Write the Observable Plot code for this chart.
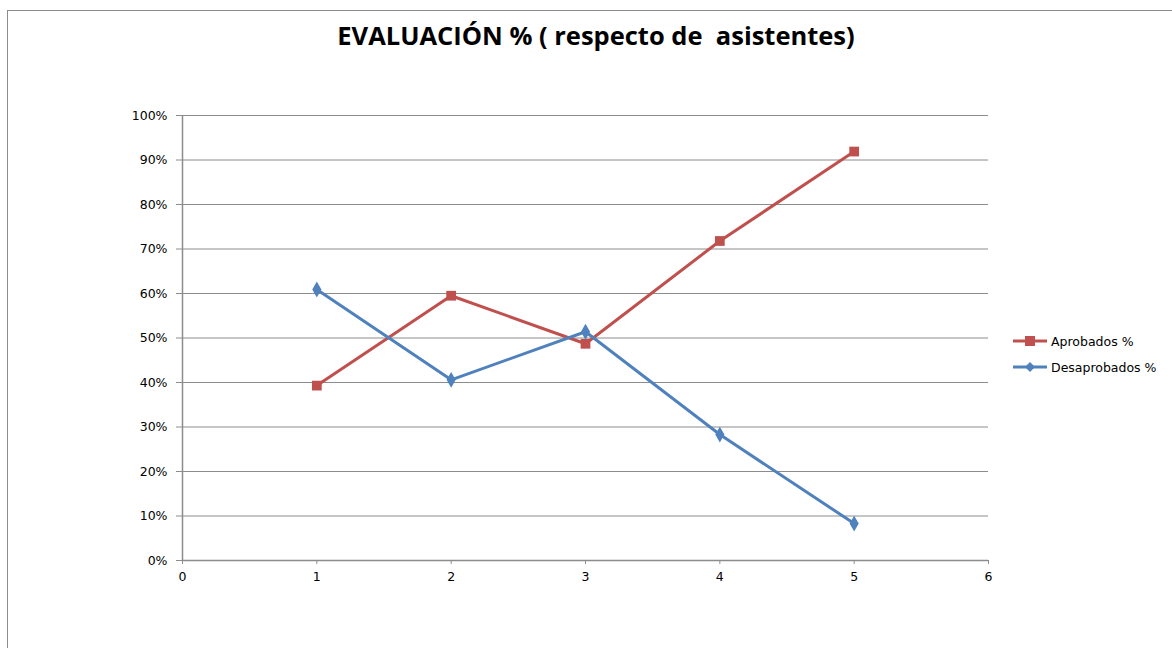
<!DOCTYPE html>
<html>
<head>
<meta charset="utf-8">
<script src="https://cdn.jsdelivr.net/npm/d3@7"></script>
<script src="https://cdn.jsdelivr.net/npm/@observablehq/plot@0.6"></script>
<style>
  html, body { margin: 0; padding: 0; background: #fff; overflow: hidden; }
  #wrap { position: relative; width: 1172px; height: 648px; overflow: hidden; }
  #frame { position: absolute; left: 7px; top: 10px; width: 1200px; height: 700px; border: 1.5px solid #8c8c8c; box-sizing: border-box; }
  #title { position: absolute; left: 0; width: 1192px; top: 18px; text-align: center; font-family: "Open Sans", sans-serif; font-weight: bold; font-size: 25.5px; color: #000; }
  #legend { position: absolute; left: 1012px; top: 328px; font-family: "DejaVu Sans", Verdana, sans-serif; font-size: 12.5px; color: #000; }
  .item { display: flex; align-items: center; height: 26px; }
  .item svg { margin-right: 3px; }
  #chart { position: absolute; left: 0; top: 0; }
</style>
</head>
<body>
<div id="wrap">
  <div id="frame"></div>
  <div id="chart"></div>
  <div id="title">EVALUACIÓN % ( respecto de&nbsp; asistentes)</div>
  <div id="legend"></div>
</div>
<script>
const xs = [1, 2, 3, 4, 5];
const aprobados = [39.3, 59.5, 48.7, 71.8, 91.9];
const desaprobados = [60.9, 40.6, 51.4, 28.3, 8.3];
const yTicks = [0, 10, 20, 30, 40, 50, 60, 70, 80, 90, 100];
const xTicks = [0, 1, 2, 3, 4, 5, 6];
const seriesNames = ["Aprobados %", "Desaprobados %"];
const colors = ["#C0504D", "#4F81BD"];

const dataA = xs.map((x, i) => ({x, y: aprobados[i]}));
const dataD = xs.map((x, i) => ({x, y: desaprobados[i]}));

const chart = Plot.plot({
  width: 1172,
  height: 648,
  marginLeft: 182,
  marginRight: 184,
  marginTop: 115,
  marginBottom: 88,
  style: {fontFamily: "'DejaVu Sans', Verdana, sans-serif", fontSize: "12.5px", color: "#000", background: "transparent"},
  x: {domain: [0, 6], ticks: xTicks, label: null, axis: null},
  y: {domain: [0, 100], ticks: yTicks, label: null, axis: null},
  marks: [
    Plot.gridY(yTicks, {stroke: "#8c8c8c", strokeOpacity: 1, strokeWidth: 1}),
    Plot.ruleX([0], {stroke: "#8c8c8c", strokeWidth: 1.5}),
    Plot.ruleY([0], {stroke: "#8c8c8c", strokeWidth: 1.5}),
    Plot.axisY(yTicks, {tickSize: 6, tickPadding: 9, stroke: "#8c8c8c", fill: "#000", label: null, tickFormat: d => d + "%"}),
    Plot.axisX(xTicks, {tickSize: 4, tickPadding: 8, stroke: "#8c8c8c", fill: "#000", label: null, tickFormat: d => String(d)}),
    Plot.line(dataA, {x: "x", y: "y", stroke: colors[0], strokeWidth: 3}),
    Plot.line(dataD, {x: "x", y: "y", stroke: colors[1], strokeWidth: 3}),
    Plot.dot(dataA, {x: "x", y: "y", symbol: "square", r: 5.5, fill: colors[0], stroke: "none"}),
    Plot.dot(dataD, {x: "x", y: "y", symbol: "diamond", r: 4.8, fill: colors[1], stroke: "none"})
  ]
});
document.getElementById("chart").appendChild(chart);

const legend = document.getElementById("legend");
seriesNames.forEach((name, i) => {
  const item = document.createElement("div");
  item.className = "item";
  const marker = i === 0
    ? `<rect x="13" y="3" width="10" height="10" fill="${colors[i]}"/>`
    : `<path d="M18 3 L23 8 L18 13 L13 8 Z" fill="${colors[i]}"/>`;
  item.innerHTML = `<svg width="36" height="16"><line x1="1" x2="35" y1="8" y2="8" stroke="${colors[i]}" stroke-width="3"/>${marker}</svg><span>${name}</span>`;
  legend.appendChild(item);
});
</script>
</body>
</html>
